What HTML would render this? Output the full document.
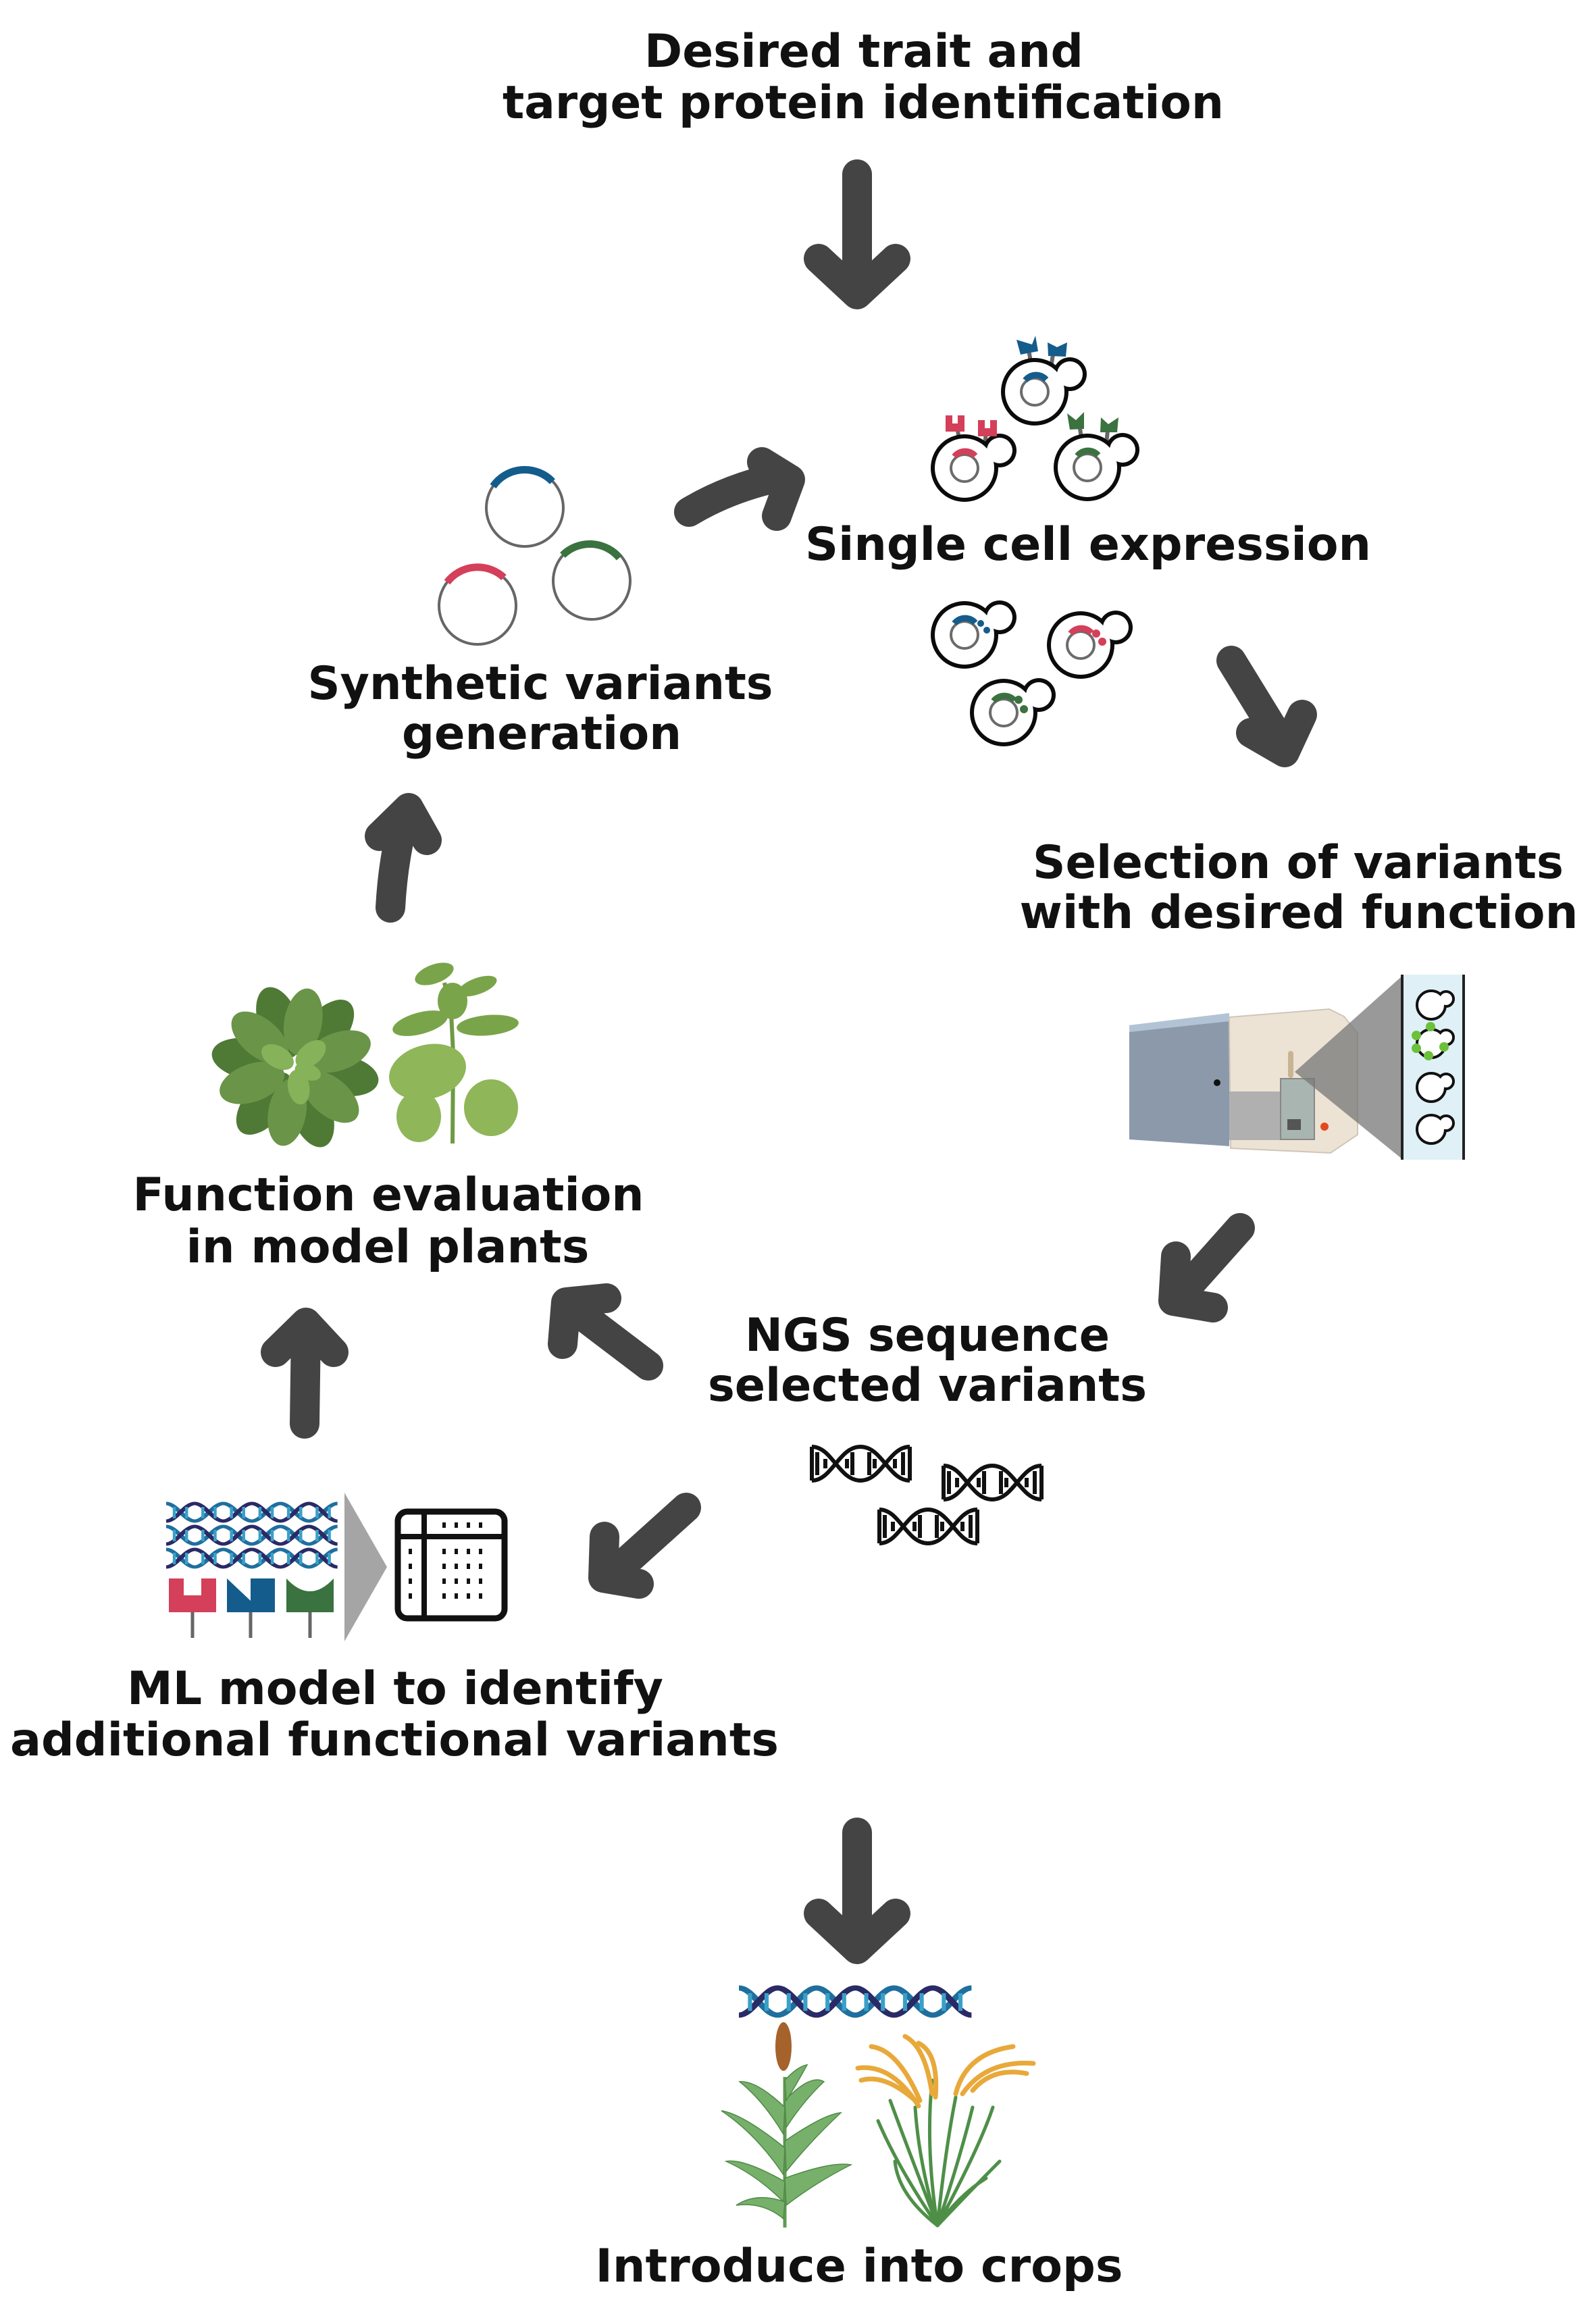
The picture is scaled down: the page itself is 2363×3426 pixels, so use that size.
<!DOCTYPE html>
<html><head><meta charset="utf-8"><style>
html,body{margin:0;padding:0;background:#fff;}
svg{display:block;}
text{font-family:"DejaVu Sans","Liberation Sans",sans-serif;font-weight:bold;font-size:68px;fill:#111;}
</style></head><body>
<svg width="2363" height="3426" viewBox="0 0 2363 3426" xmlns="http://www.w3.org/2000/svg">
<defs>
<g id="cell">
 <circle cx="0" cy="0" r="50" fill="#0b0b0b"/><circle cx="52" cy="-26" r="25" fill="#0b0b0b"/>
 <circle cx="0" cy="0" r="44" fill="#fff"/><circle cx="52" cy="-26" r="19" fill="#fff"/>
 <circle cx="0" cy="0" r="20" fill="none" stroke="#6b6b6b" stroke-width="4"/>
</g>
<g id="mcell">
 <circle cx="0" cy="0" r="21" fill="none" stroke="#111" stroke-width="4"/>
 <circle cx="22" cy="-9" r="11" fill="#fff" stroke="#111" stroke-width="4"/>
 <circle cx="0" cy="0" r="19" fill="#fff"/>
</g>
<g id="bwdna" fill="none" stroke="#111" stroke-width="6">
 <path d="M0,0 C30,0 40,50 72,50 C104,50 114,0 145,0"/>
 <path d="M0,50 C30,50 40,0 72,0 C104,0 114,50 145,50"/>
 <path d="M0,0 V50 M8,8 V42 M20,18 V32 M52,18 V32 M60,8 V42 M85,8 V42 M93,18 V32 M123,18 V32 M135,8 V42 M145,0 V50"/>
</g>
<g id="cdna" fill="none" stroke-width="5">
 <path d="M0,4 c10,0 18,26 28,26 c10,0 18,-26 28,-26 c10,0 18,26 28,26 c10,0 18,-26 28,-26 c10,0 18,26 28,26 c10,0 18,-26 28,-26" stroke="#1f6f9e"/>
 <path d="M0,30 c10,0 18,-26 28,-26 c10,0 18,26 28,26 c10,0 18,-26 28,-26 c10,0 18,26 28,26 c10,0 18,-26 28,-26 c10,0 18,26 28,26" stroke="#2a2a66"/>
 <path d="M8,9 V26 M20,9 V26 M36,9 V26 M48,9 V26 M64,9 V26 M76,9 V26 M92,9 V26 M104,9 V26 M120,9 V26 M132,9 V26 M148,9 V26 M160,9 V26" stroke="#3aa0c8" stroke-width="3"/>
</g>
</defs>

<!-- Texts -->
<text x="1279" y="99" text-anchor="middle" textLength="650" lengthAdjust="spacingAndGlyphs">Desired trait and</text>
<text x="1278" y="175" text-anchor="middle" textLength="1068" lengthAdjust="spacingAndGlyphs">target protein identification</text>
<text x="1611" y="829" text-anchor="middle" textLength="838" lengthAdjust="spacingAndGlyphs">Single cell expression</text>
<text x="800" y="1035" text-anchor="middle" textLength="689" lengthAdjust="spacingAndGlyphs">Synthetic variants</text>
<text x="802" y="1109" text-anchor="middle" textLength="414" lengthAdjust="spacingAndGlyphs">generation</text>
<text x="1922" y="1300" text-anchor="middle" textLength="786" lengthAdjust="spacingAndGlyphs">Selection of variants</text>
<text x="1923" y="1374" text-anchor="middle" textLength="827" lengthAdjust="spacingAndGlyphs">with desired function</text>
<text x="575" y="1792" text-anchor="middle" textLength="757" lengthAdjust="spacingAndGlyphs">Function evaluation</text>
<text x="574" y="1869" text-anchor="middle" textLength="597" lengthAdjust="spacingAndGlyphs">in model plants</text>
<text x="1373" y="2000" text-anchor="middle" textLength="540" lengthAdjust="spacingAndGlyphs">NGS sequence</text>
<text x="1373" y="2074" text-anchor="middle" textLength="650" lengthAdjust="spacingAndGlyphs">selected variants</text>
<text x="585" y="2523" text-anchor="middle" textLength="794" lengthAdjust="spacingAndGlyphs">ML model to identify</text>
<text x="584" y="2599" text-anchor="middle" textLength="1138" lengthAdjust="spacingAndGlyphs">additional functional variants</text>
<text x="1272" y="3378" text-anchor="middle" textLength="781" lengthAdjust="spacingAndGlyphs">Introduce into crops</text>

<!-- Arrows -->
<g fill="none" stroke="#444" stroke-width="44" stroke-linecap="round" stroke-linejoin="round">
 <path d="M1269,258 V420"/><path d="M1212,383 L1269,436 L1326,383"/>
 <path d="M1020,758 Q1080,722 1155,706"/><path d="M1128,684 L1170,710 L1150,764"/>
 <path d="M1823,978 L1898,1100"/><path d="M1852,1085 L1902,1114 L1928,1058"/>
 <path d="M1836,1818 L1745,1920"/><path d="M1741,1860 L1737,1926 L1796,1936"/>
 <path d="M960,2022 L852,1940"/><path d="M833,1990 L838,1928 L898,1922"/>
 <path d="M451,2108 L453,1968"/><path d="M408,2002 L453,1958 L494,2002"/>
 <path d="M578,1344 Q582,1270 600,1205"/><path d="M562,1238 L605,1196 L632,1244"/>
 <path d="M1016,2232 L905,2332"/><path d="M895,2275 L893,2336 L946,2345"/>
 <path d="M1269,2713 V2870"/><path d="M1212,2833 L1269,2886 L1326,2833"/>
</g>

<!-- Plasmids -->
<g fill="none" stroke="#666" stroke-width="4">
 <circle cx="777" cy="752" r="57"/><circle cx="707" cy="897" r="57"/><circle cx="876" cy="860" r="57"/>
</g>
<g fill="none" stroke-width="11">
 <path d="M730,720 A57,57 0 0,1 818,713" stroke="#145c8c"/>
 <path d="M662,862 A57,57 0 0,1 746,855" stroke="#d43f5a"/>
 <path d="M833,822 A57,57 0 0,1 917,826" stroke="#3a7240"/>
</g>

<!-- Cells top -->
<g stroke="#666" stroke-width="6">
 <line x1="1523" y1="518" x2="1526" y2="535"/><line x1="1560" y1="518" x2="1557" y2="538"/>
 <line x1="1418" y1="638" x2="1421" y2="655"/><line x1="1460" y1="640" x2="1458" y2="660"/>
 <line x1="1599" y1="634" x2="1601" y2="650"/><line x1="1640" y1="637" x2="1638" y2="657"/>
</g>
<use href="#cell" x="1532" y="580"/><use href="#cell" x="1428" y="693"/><use href="#cell" x="1610" y="692"/>
<g fill="#145c8c"><path d="M1505,503 L1528,510 L1533,497 L1537,520 L1511,525Z"/><path d="M1551,507 L1565,514 L1580,507 L1578,528 L1552,527Z"/></g>
<g fill="#d43f5a"><path d="M1400,615 h10 v12 h8 v-12 h10 v24 h-28Z"/><path d="M1448,622 h10 v12 h8 v-12 h10 v24 h-28Z"/></g>
<g fill="#3a7240"><path d="M1580,612 L1593,622 L1605,610 L1605,635 L1584,636Z"/><path d="M1630,618 L1641,628 L1656,618 L1654,640 L1629,640Z"/></g>
<g fill="none" stroke-width="9">
 <path d="M1518,563 A20,20 0 0,1 1549,562" stroke="#145c8c"/>
 <path d="M1413,676 A20,20 0 0,1 1444,675" stroke="#d43f5a"/>
 <path d="M1595,675 A20,20 0 0,1 1626,674" stroke="#3a7240"/>
</g>
<!-- Cells lower -->
<use href="#cell" x="1428" y="940"/><use href="#cell" x="1600" y="955"/><use href="#cell" x="1486" y="1055"/>
<g fill="none" stroke-width="9">
 <path d="M1413,923 A20,20 0 0,1 1444,922" stroke="#145c8c"/>
 <path d="M1585,938 A20,20 0 0,1 1616,937" stroke="#d43f5a"/>
 <path d="M1471,1038 A20,20 0 0,1 1502,1037" stroke="#3a7240"/>
</g>
<g fill="#145c8c"><circle cx="1452" cy="923" r="5"/><circle cx="1461" cy="933" r="5"/></g>
<g fill="#d43f5a"><circle cx="1623" cy="938" r="6"/><circle cx="1632" cy="950" r="6"/></g>
<g fill="#3a7240"><circle cx="1508" cy="1036" r="6"/><circle cx="1516" cy="1050" r="6"/></g>

<!-- Sorter machine -->
<path d="M1672,1518 L1820,1500 L1820,1697 L1672,1687Z" fill="#8c99ab"/>
<path d="M1672,1518 L1820,1500 L1820,1512 L1672,1528Z" fill="#b3c3d6"/>
<circle cx="1802" cy="1603" r="5" fill="#111"/>
<path d="M1820,1506 L1968,1494 L1990,1505 L2010,1530 L2010,1680 L1970,1707 L1822,1700Z" fill="#ece3d5" stroke="#cfc6b8" stroke-width="2"/>
<rect x="1820" y="1616" width="80" height="72" fill="#b0b0b0"/>
<rect x="1896" y="1597" width="50" height="90" fill="#a9b5b0" stroke="#888" stroke-width="2"/>
<rect x="1906" y="1657" width="20" height="16" fill="#555"/>
<circle cx="1961" cy="1668" r="6" fill="#e24a1e"/>
<rect x="1907" y="1556" width="8" height="40" rx="4" fill="#c9b393"/>
<path d="M1917,1587 L2076,1445 L2076,1716Z" fill="#777" opacity="0.75"/>
<rect x="2076" y="1443" width="91" height="274" fill="#dff0f6"/>
<rect x="2074" y="1443" width="4" height="274" fill="#222"/><rect x="2165" y="1443" width="4" height="274" fill="#222"/>
<use href="#mcell" x="2119" y="1488"/><use href="#mcell" x="2119" y="1545"/><use href="#mcell" x="2119" y="1610"/><use href="#mcell" x="2119" y="1672"/>
<g fill="#6bc13a"><circle cx="2097" cy="1533" r="7"/><circle cx="2118" cy="1520" r="7"/><circle cx="2097" cy="1552" r="7"/><circle cx="2138" cy="1550" r="7"/><circle cx="2115" cy="1563" r="7"/></g>

<!-- Rosette -->
<g transform="translate(437,1580)">
 <g fill="#4f7a35">
  <ellipse cx="0" cy="-70" rx="30" ry="55" transform="rotate(-20)"/><ellipse cx="0" cy="-70" rx="30" ry="55" transform="rotate(40)"/>
  <ellipse cx="0" cy="-70" rx="30" ry="55" transform="rotate(100)"/><ellipse cx="0" cy="-70" rx="30" ry="55" transform="rotate(160)"/>
  <ellipse cx="0" cy="-70" rx="30" ry="55" transform="rotate(220)"/><ellipse cx="0" cy="-70" rx="30" ry="55" transform="rotate(280)"/>
 </g>
 <g fill="#6a9448">
  <ellipse cx="0" cy="-68" rx="28" ry="50" transform="rotate(10)"/><ellipse cx="0" cy="-68" rx="28" ry="50" transform="rotate(70)"/>
  <ellipse cx="0" cy="-68" rx="28" ry="50" transform="rotate(130)"/><ellipse cx="0" cy="-68" rx="28" ry="50" transform="rotate(190)"/>
  <ellipse cx="0" cy="-68" rx="28" ry="50" transform="rotate(250)"/><ellipse cx="0" cy="-68" rx="28" ry="50" transform="rotate(310)"/>
 </g>
 <g fill="#86b25a">
  <ellipse cx="0" cy="-30" rx="16" ry="26" transform="rotate(50)"/><ellipse cx="0" cy="-30" rx="16" ry="26" transform="rotate(-60)"/>
  <ellipse cx="0" cy="-30" rx="16" ry="26" transform="rotate(170)"/><ellipse cx="0" cy="-20" rx="12" ry="20" transform="rotate(110)"/>
 </g>
</g>
<!-- Tobacco -->
<g>
 <path d="M670,1693 L671,1560 L668,1500 L658,1455" stroke="#6f9a45" stroke-width="6" fill="none"/>
 <g fill="#8fb658">
  <ellipse cx="633" cy="1587" rx="58" ry="40" transform="rotate(-15 633 1587)"/>
  <ellipse cx="620" cy="1653" rx="33" ry="38"/><ellipse cx="727" cy="1640" rx="40" ry="42"/>
 </g>
 <g fill="#7aa44a">
  <ellipse cx="622" cy="1515" rx="42" ry="16" transform="rotate(-15 622 1515)"/>
  <ellipse cx="722" cy="1518" rx="46" ry="15" transform="rotate(-5 722 1518)"/>
  <ellipse cx="670" cy="1482" rx="22" ry="27"/>
  <ellipse cx="643" cy="1442" rx="30" ry="14" transform="rotate(-20 643 1442)"/>
  <ellipse cx="707" cy="1460" rx="30" ry="12" transform="rotate(-20 707 1460)"/>
 </g>
</g>

<!-- NGS dna -->
<use href="#bwdna" x="1202" y="2142"/>
<use href="#bwdna" x="1397" y="2170"/>
<use href="#bwdna" x="1302" y="2235"/>

<!-- ML icon -->
<g transform="translate(246,2222) scale(1.51,1)"><use href="#cdna" y="0"/><use href="#cdna" y="34"/><use href="#cdna" y="68"/></g>
<g stroke="#666" stroke-width="5"><line x1="285" y1="2380" x2="285" y2="2425"/><line x1="371" y1="2380" x2="371" y2="2425"/><line x1="459" y1="2380" x2="459" y2="2425"/></g>
<path d="M250,2337 h70 v50 h-70Z M272,2337 v25 h26 v-25Z" fill="#d43f5a" fill-rule="evenodd"/>
<path d="M336,2337 L371,2370 L371,2337 L407,2337 L407,2387 L336,2387Z" fill="#145c8c"/>
<path d="M424,2337 Q459,2375 494,2337 L494,2387 L424,2387Z" fill="#3a7240"/>
<path d="M510,2210 L573,2320 L510,2430Z" fill="#a5a5a5"/>
<rect x="589" y="2238" width="158" height="158" rx="14" fill="none" stroke="#111" stroke-width="9"/>
<line x1="589" y1="2275" x2="747" y2="2275" stroke="#111" stroke-width="8"/>
<line x1="628" y1="2238" x2="628" y2="2396" stroke="#111" stroke-width="8"/>
<g fill="#111">
 <rect x="655" y="2254" width="5" height="8"/><rect x="673" y="2254" width="5" height="8"/><rect x="691" y="2254" width="5" height="8"/><rect x="709" y="2254" width="5" height="8"/>
 <rect x="605" y="2293" width="5" height="8"/><rect x="605" y="2315" width="5" height="8"/><rect x="605" y="2337" width="5" height="8"/><rect x="605" y="2359" width="5" height="8"/>
 <g id="dots"><rect x="655" y="2293" width="5" height="8"/><rect x="673" y="2293" width="5" height="8"/><rect x="691" y="2293" width="5" height="8"/><rect x="709" y="2293" width="5" height="8"/></g>
 <use href="#dots" y="22"/><use href="#dots" y="44"/><use href="#dots" y="66"/>
</g>

<!-- bottom DNA -->
<g transform="translate(1094,2937) scale(2.05,1.55)"><use href="#cdna"/></g>

<!-- Sorghum -->
<g>
 <path d="M1162,3298 V3075" stroke="#5e9a52" stroke-width="5"/>
 <ellipse cx="1160" cy="3030" rx="12" ry="36" fill="#a5622a"/>
 <g fill="#76b06a" stroke="#4f8a46" stroke-width="1.5">
  <path d="M1162,3120 Q1120,3080 1095,3082 Q1130,3110 1160,3160Z"/>
  <path d="M1162,3110 Q1200,3070 1220,3082 Q1190,3110 1164,3150Z"/>
  <path d="M1162,3180 Q1100,3130 1068,3125 Q1120,3160 1160,3220Z"/>
  <path d="M1162,3170 Q1220,3130 1245,3128 Q1200,3170 1164,3215Z"/>
  <path d="M1162,3230 Q1100,3195 1075,3200 Q1120,3220 1160,3260Z"/>
  <path d="M1162,3225 Q1230,3200 1260,3205 Q1210,3230 1164,3265Z"/>
  <path d="M1162,3260 Q1120,3245 1090,3265 Q1130,3260 1160,3285Z"/>
  <path d="M1162,3080 Q1180,3060 1195,3057 Q1180,3085 1164,3110Z"/>
 </g>
</g>
<!-- Rice -->
<g>
 <g fill="none" stroke="#4e8f48" stroke-width="5" stroke-linecap="round">
  <path d="M1388,3295 Q1360,3200 1355,3120"/><path d="M1388,3295 Q1370,3180 1380,3080"/><path d="M1388,3295 Q1400,3180 1415,3105"/>
  <path d="M1388,3295 Q1420,3200 1440,3120"/><path d="M1388,3295 Q1330,3210 1300,3140"/><path d="M1388,3295 Q1330,3250 1325,3200"/>
  <path d="M1388,3295 Q1450,3230 1480,3200"/><path d="M1388,3295 Q1450,3180 1470,3120"/><path d="M1388,3295 Q1420,3250 1460,3225"/>
  <path d="M1388,3295 Q1340,3170 1318,3110"/>
 </g>
 <g fill="none" stroke="#e8a93a" stroke-width="7" stroke-linecap="round">
  <path d="M1360,3118 Q1320,3055 1270,3062"/><path d="M1362,3110 Q1330,3035 1290,3030"/><path d="M1380,3100 Q1370,3030 1340,3015"/>
  <path d="M1385,3105 Q1390,3040 1360,3025"/><path d="M1415,3100 Q1430,3040 1500,3030"/><path d="M1425,3100 Q1460,3050 1530,3055"/>
  <path d="M1440,3095 Q1470,3060 1520,3070"/><path d="M1355,3110 Q1310,3070 1275,3080"/>
 </g>
</g>
</svg>
</body></html>
